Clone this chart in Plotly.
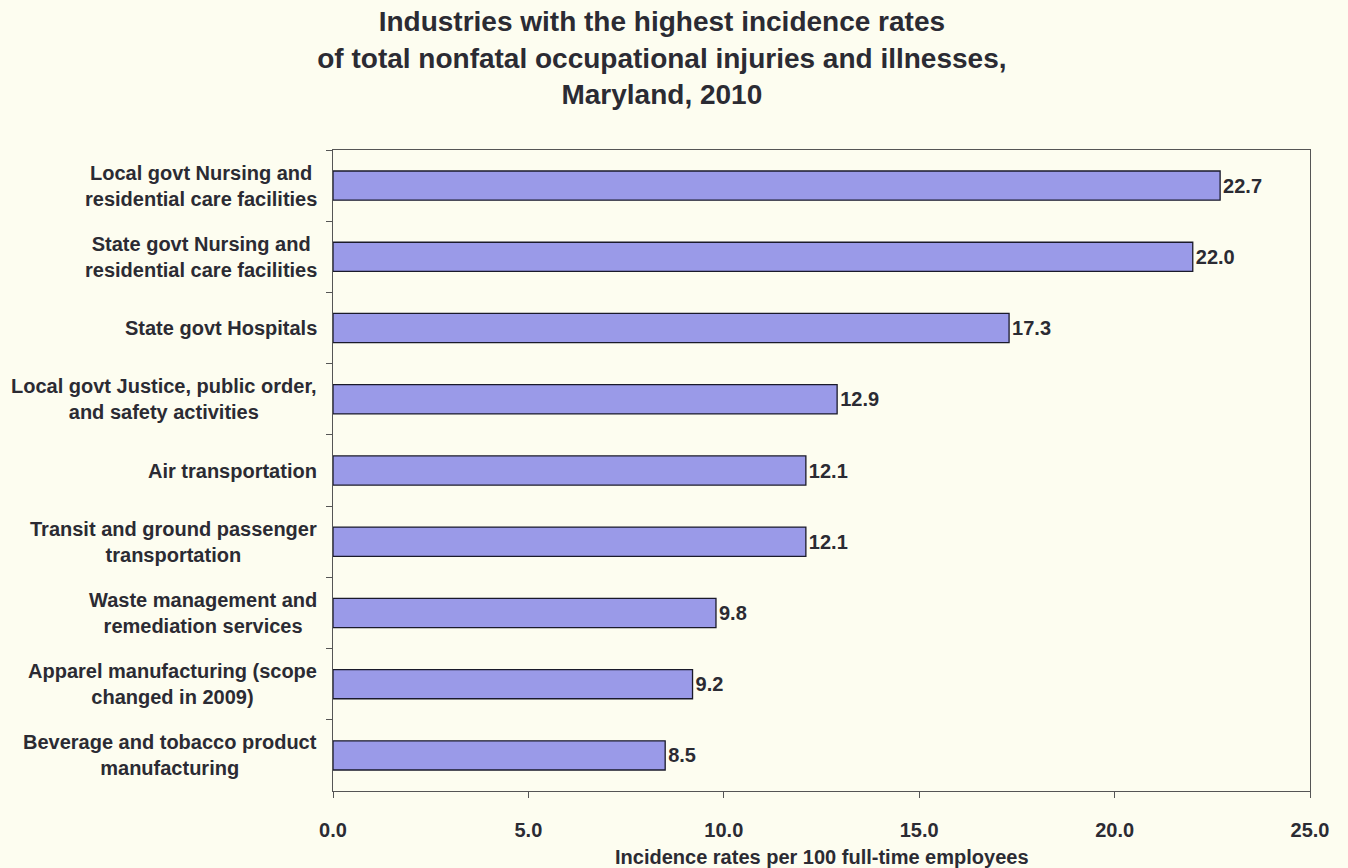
import plotly.graph_objects as go

categories = [
    "Local govt Nursing and<br>residential care facilities",
    "State govt Nursing and<br>residential care facilities",
    "State govt Hospitals",
    "Local govt Justice, public order,<br>and safety activities",
    "Air transportation",
    "Transit and ground passenger<br>transportation",
    "Waste management and<br>remediation services",
    "Apparel manufacturing (scope<br>changed in 2009)",
    "Beverage and tobacco product<br>manufacturing",
]
values = [22.7, 22.0, 17.3, 12.9, 12.1, 12.1, 9.8, 9.2, 8.5]
x_ticks = [0, 5, 10, 15, 20, 25]
x_title = "Incidence rates per 100 full-time employees"

bg = "#fdfdf0"
font_family = "Liberation Sans, Arial, sans-serif"
text_color = "#2b2b33"

fig = go.Figure(go.Bar(
    x=values,
    y=categories,
    orientation="h",
    width=0.41,
    marker=dict(color="#9a9ae8", line=dict(color="#1a1a2a", width=1.3)),
    text=[f"{v:.1f}" for v in values],
    textposition="outside",
    textfont=dict(family=font_family, size=20, color=text_color, weight="bold"),
    cliponaxis=False,
))

# category labels (centered multi-line, right-aligned block)
for cat in categories:
    fig.add_annotation(
        x=0, xref="paper", y=cat, yref="y",
        xanchor="right", yanchor="middle", xshift=-14,
        text=cat, align="center", showarrow=False,
        font=dict(family=font_family, size=20, color=text_color, weight="bold"),
    )

# x-axis title
fig.add_annotation(
    x=0.5, xref="paper", y=0, yref="paper",
    xanchor="center", yanchor="middle", yshift=-66,
    text=x_title, showarrow=False,
    font=dict(family=font_family, size=20, color=text_color, weight="bold"),
)

fig.update_layout(
    width=1348, height=868,
    paper_bgcolor=bg, plot_bgcolor=bg,
    margin=dict(l=333, r=38, t=150, b=77),
    font=dict(family=font_family, color=text_color),
    showlegend=False,
    title=dict(
        text="Industries with the highest incidence rates<br>of total nonfatal occupational injuries and illnesses,<br>Maryland, 2010",
        x=0.491, xanchor="center", y=0.964, yanchor="top",
        font=dict(family=font_family, size=28, color=text_color, weight="bold"),
    ),
)

fig.update_xaxes(
    range=[0, 25], tickvals=x_ticks, tickformat=".1f",
    showgrid=False, zeroline=False, automargin=False,
    showline=True, linecolor="#555555", linewidth=1, mirror=True,
    ticks="outside", ticklen=6, tickcolor="#555555",
    ticklabelstandoff=15,
    tickfont=dict(family=font_family, size=20, color=text_color, weight="bold"),
)
fig.update_yaxes(
    autorange="reversed", type="category", automargin=False,
    showgrid=False, zeroline=False,
    showline=True, linecolor="#555555", linewidth=1, mirror=True,
    ticks="outside", ticklen=6, tickcolor="#555555", tickson="boundaries",
    showticklabels=False,
)

fig.write_html("out.html")
